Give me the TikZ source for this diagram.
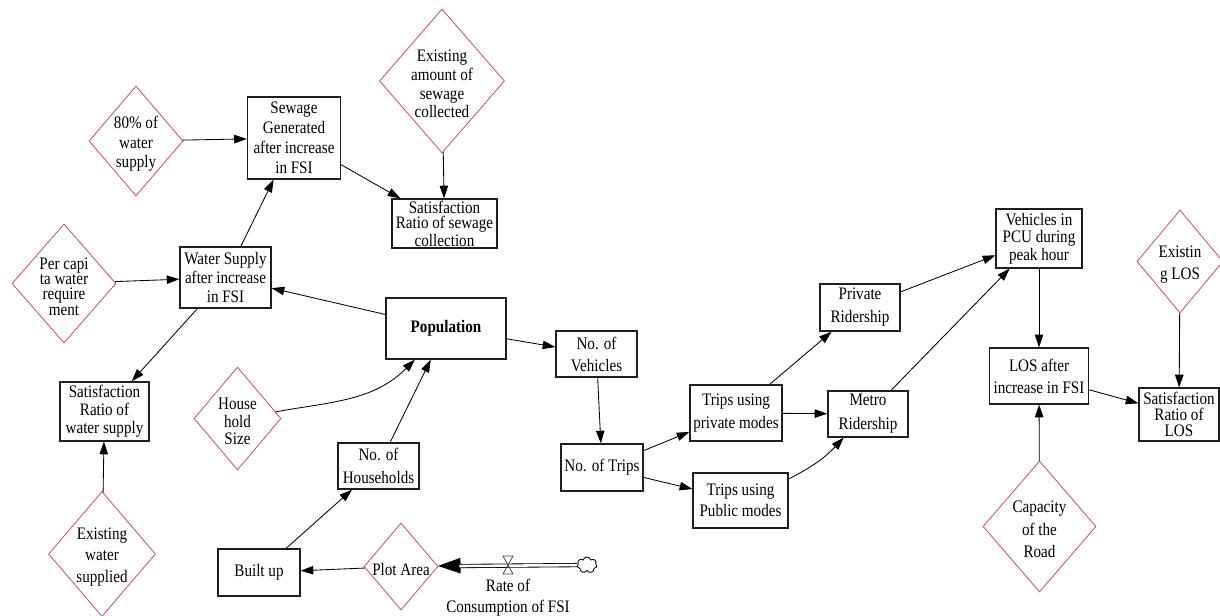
\documentclass[tikz,border=0pt]{standalone}
\usepackage{fontspec}
\setmainfont{Liberation Serif}[FakeStretch=0.86]
\usepackage{tikz}
\usetikzlibrary{shapes.geometric,shapes.symbols,arrows.meta}
\definecolor{AuxRed}{RGB}{190,88,98}
\definecolor{BoxGray}{RGB}{30,30,30}
\def\px{0.025cm}
\newcommand{\fs}[1]{\fontsize{12.5}{#1}\selectfont}
\tikzset{
  var/.style 2 args={draw=BoxGray, line width=0.9pt, minimum width=#1*\px, minimum height=#2*\px,
    inner sep=0pt, align=center, font=\fs{14.2}},
  aux/.style 2 args={shape=diamond, draw=AuxRed, line width=0.6pt, minimum width=#1*\px,
    minimum height=#2*\px, inner sep=0pt},
  auxtxt/.style={align=center, inner sep=0pt, yshift=-3*\px, font=\fs{#1}},
  link/.style={-{Triangle[length=9pt,width=6pt]}, line width=0.6pt, black},
  pipe/.style={double, double distance=1.8pt, line width=0.6pt, shorten >=15pt},
  flowtip/.style={-{Triangle[length=16pt,width=11pt]}, line width=0.6pt},
  valvebox/.style={line width=0.6pt, draw=black!70},
  source/.style={shape=cloud, cloud puffs=7, draw, line width=0.6pt, minimum width=20*\px,
    minimum height=16*\px, inner sep=0pt},
}
\begin{document}
\begin{tikzpicture}[x=\px, y=\px]
\useasboundingbox (0,0) rectangle (1220,-616);

% water and sewage
\node[var={93}{82}] (sewgen) at (294,-138) {Sewage\\Generated\\after increase\\in FSI};
\node[var={105}{49}, font=\fs{11}] (sewsat) at (444.5,-223.5) {Satisfaction\\Ratio of sewage\\collection};
\node[aux={125}{144}, label={[auxtxt=13.2]center:Existing\\amount of\\sewage\\collected}] (sewexist) at (442,-81) {};
\node[aux={94}{110}, label={[auxtxt=13.8]center:80\% of\\water\\supply}] (pct80) at (136,-141) {};
\node[var={91}{61}, font=\fs{13.5}] (watsup) at (225.5,-277.5) {Water Supply\\after increase\\in FSI};
\node[aux={104}{119}, label={[auxtxt=10.9]center:Per capi\\ta water\\require\\ment}] (percap) at (64,-283.5) {};
\node[var={89}{59}, font=\fs{12.8}] (watsat) at (104.5,-411.5) {Satisfaction\\Ratio of\\water supply};
\node[aux={107}{125}, label={[auxtxt=15.6]center:Existing\\water\\supplied}] (watexist) at (102,-554) {};

% population
\node[var={120}{61}] (pop) at (446,-328.5) {\textbf{Population}};
\node[aux={87}{103}, label={[auxtxt=12.4]center:House\\hold\\Size}] (hhsize) at (237.5,-418.5) {};
\node[var={81}{46}, font=\fs{16.3}] (hhnum) at (378.5,-466) {No. of\\Households};
\node[var={82}{47}] (builtup) at (259,-572.5) {Built up};
\node[aux={74}{87}, label={[auxtxt=14]center:Plot Area}] (plot) at (401,-566.5) {};
\coordinate (valve) at (508,-565);
\node[source] (cloud) at (587,-565) {};
\node[align=center, inner sep=0pt, font=\fs{14.9}] (ratelbl) at (508,-597.5) {Rate of\\Consumption of FSI};

% transport
\node[var={81}{46}, font=\fs{15.6}] (veh) at (596.5,-354) {No. of\\Vehicles};
\node[var={82}{47}] (trips) at (602,-467.5) {No. of Trips};
\node[var={92}{56}, font=\fs{16.3}] (tpriv) at (736,-413) {Trips using\\private modes};
\node[var={95}{55}, font=\fs{14.9}] (tpub) at (740.5,-500.5) {Trips using\\Public modes};
\node[var={80}{47}, font=\fs{16.3}] (privride) at (860,-307.5) {Private\\Ridership};
\node[var={80}{46}, font=\fs{17}] (metro) at (868,-414) {Metro\\Ridership};
\node[var={86}{59}, font=\fs{12.4}] (pcu) at (1039,-238.5) {Vehicles in\\PCU during\\peak hour};
\node[var={99}{56}, font=\fs{15.6}] (los) at (1039,-376) {LOS after\\increase in FSI};
\node[aux={113}{131}, label={[auxtxt=16]center:Capacity\\of the\\Road}] (roadcap) at (1039.5,-526.5) {};
\node[var={80}{53}, font=\fs{11.2}] (lossat) at (1179,-414.5) {Satisfaction\\Ratio of\\LOS};
\node[aux={86}{103}, label={[auxtxt=15.6]center:Existin\\g LOS}] (losexist) at (1180,-261.5) {};

% links
\draw[link] (pct80) -- (sewgen);
\draw[link] (watsup) -- (sewgen);
\draw[link] (sewgen) -- (sewsat);
\draw[link] (sewexist) -- (sewsat);
\draw[link] (percap) -- (watsup);
\draw[link] (pop) -- (watsup);
\draw[link] (watsup) -- (watsat);
\draw[link] (watexist) -- (watsat);
\draw[link] (hhsize) to[out=10, in=-135] (pop);
\draw[link] (hhnum) -- (pop);
\draw[link] (builtup) -- (hhnum);
\draw[link] (plot) -- (builtup);
\draw[link] (pop) -- (veh);
\draw[link] (veh) -- (trips);
\draw[link] (trips) -- (tpriv);
\draw[link] (trips) -- (tpub);
\draw[link] (tpriv) -- (privride);
\draw[link] (tpriv) -- (metro);
\draw[link] (tpub) to[bend right=10] (metro);
\draw[link] (privride) -- (pcu);
\draw[link] (metro) -- (pcu);
\draw[link] (pcu) -- (los);
\draw[link] (roadcap) -- (los);
\draw[link] (los) -- (lossat);
\draw[link] (losexist) -- (lossat);

% flow
\draw[flowtip] (valve) -- (plot);
\draw[pipe] (cloud) -- (plot);
\draw[valvebox] (valve) ++(-5,9) -- ++(10,0) -- ++(-10,-18) -- ++(10,0) -- cycle;
\end{tikzpicture}
\end{document}
